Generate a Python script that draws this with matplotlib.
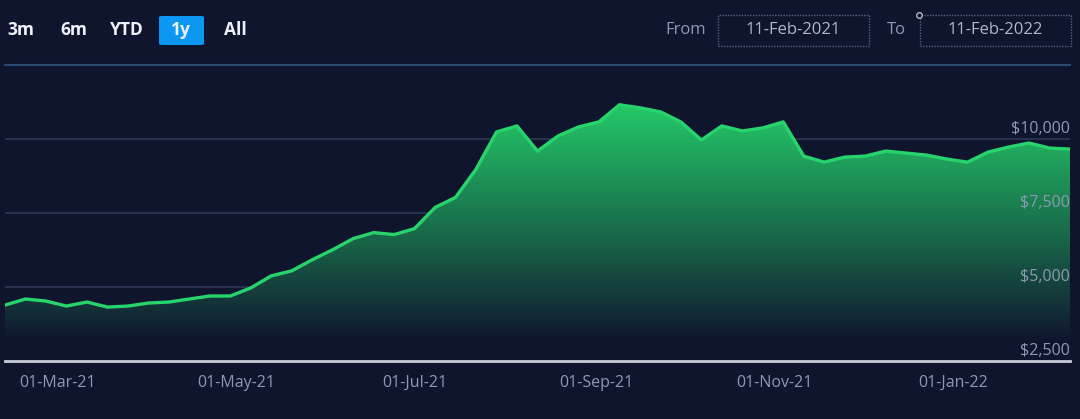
import numpy as np
import pandas as pd
import matplotlib
matplotlib.use("Agg")
import matplotlib.pyplot as plt
import matplotlib.dates as mdates
from matplotlib.patches import FancyBboxPatch, Rectangle
from matplotlib.lines import Line2D

# weekly prices, 11-Feb-2021 .. 11-Feb-2022
dates = pd.date_range("2021-02-11", periods=53, freq="7D")
prices = [4390, 4594, 4526, 4356, 4492, 4322, 4356, 4458, 4492, 4594,
          4696, 4696, 4968, 5376, 5546, 5920, 6260, 6634, 6838, 6770,
          6974, 7688, 8028, 8980, 10238, 10442, 9592, 10102, 10408, 10578,
          11156, 11054, 10918, 10578, 9966, 10442, 10272, 10374, 10578, 9422,
          9218, 9388, 9422, 9592, 9524, 9456, 9320, 9218, 9558, 9728,
          9864, 9694, 9660]
y_ticks = [2500, 5000, 7500, 10000]
y_labels = ["$2,500", "$5,000", "$7,500", "$10,000"]
ranges = ["3m", "6m", "YTD", "1y", "All"]
from_date = "11-Feb-2021"
to_date = "11-Feb-2022"

BG = "#10152e"
GREEN = "#27d46b"
GRID = "#2c3754"
TXT = "#8d99b3"

plt.rcParams['font.family'] = ['Open Sans', 'DejaVu Sans']

fig = plt.figure(figsize=(10.8, 4.19), dpi=100, facecolor=BG)
ax = fig.add_axes([5 / 1080, 58 / 419, 1065 / 1080, 296 / 419])
ax.set_facecolor(BG)

x = mdates.date2num(dates)
y = np.array(prices)

# gridlines
for v in [5000, 7500, 10000]:
    ax.axhline(v, color=GRID, lw=1.2, zorder=1)
ax.axhline(12500, color="#274a70", lw=1.5, zorder=1, clip_on=False)
ax.axhline(2500, color="#c9cdd8", lw=2, zorder=5, clip_on=False)

# gradient fill under the line
poly = ax.fill_between(x, y, 2500, color="none", lw=0)
bg = np.array(matplotlib.colors.to_rgb(BG))
top = np.array([0.14, 0.79, 0.41])
levels = np.linspace(3200, 11200, 256)
t = np.clip((levels - 3200) / (11200 - 3200), 0, 1) ** 0.95
grad = bg[None, :] * (1 - t[:, None]) + top[None, :] * t[:, None]
img = ax.imshow(grad[:, None, :], aspect="auto", origin="lower",
                extent=[x[0], x[-1], 3200, 11200], zorder=2)
img.set_clip_path(poly.get_paths()[0], transform=ax.transData)
ax.set_xlim(x[0], x[-1])
ax.set_ylim(2500, 12500)

ax.plot(x, y, color=GREEN, lw=2.4, zorder=4, solid_joinstyle="round")

# y labels above gridlines, right side
for v, lab in zip(y_ticks, y_labels):
    ax.annotate(lab, xy=(1, v), xycoords=("axes fraction", "data"),
                xytext=(0, 1.5), textcoords="offset points",
                ha="right", va="bottom", color=TXT, fontsize=11.5, zorder=6)

ax.xaxis.set_major_locator(mdates.MonthLocator(bymonth=[1, 3, 5, 7, 9, 11]))
ax.xaxis.set_major_formatter(mdates.DateFormatter("%d-%b-%y"))
ax.tick_params(axis="x", length=0, pad=10, labelsize=11.5, labelcolor=TXT)
ax.set_yticks([])
for s in ax.spines.values():
    s.set_visible(False)

# range selector buttons
btn_x = [21, 74, 127, 181, 235]
for bx, r in zip(btn_x, ranges):
    if r == "1y":
        fig.patches.append(FancyBboxPatch((159 / 1080, 374 / 419), 45 / 1080, 29 / 419,
                                          boxstyle="round,pad=0,rounding_size=0.003",
                                          transform=fig.transFigure, fc="#0b97f2", ec="none"))
    fig.text(bx / 1080, 1 - 30 / 419, r, color="#eef1f7", fontsize=12.5,
             ha="center", va="center", fontweight="bold")

# date inputs
fig.text(686 / 1080, 1 - 30 / 419, "From", color=TXT, fontsize=12, ha="center", va="center")
fig.text(896 / 1080, 1 - 30 / 419, "To", color=TXT, fontsize=12, ha="center", va="center")
for bx, d in [(718, from_date), (920, to_date)]:
    fig.patches.append(Rectangle((bx / 1080, 1 - 46 / 419), 151 / 1080, 31 / 419,
                                 transform=fig.transFigure, fc="none", ec="#56627c",
                                 lw=1, ls=(0, (1, 1))))
    fig.text((bx + 75) / 1080, 1 - 30 / 419, d, color="#aeb8cb", fontsize=12,
             ha="center", va="center")
fig.add_artist(Line2D([919 / 1080], [1 - 15 / 419], transform=fig.transFigure,
                      marker="o", markersize=4, mfc=BG, mec="#aeb8cb", mew=1, ls="none"))

fig.savefig("out.png", dpi=100, facecolor=BG)
